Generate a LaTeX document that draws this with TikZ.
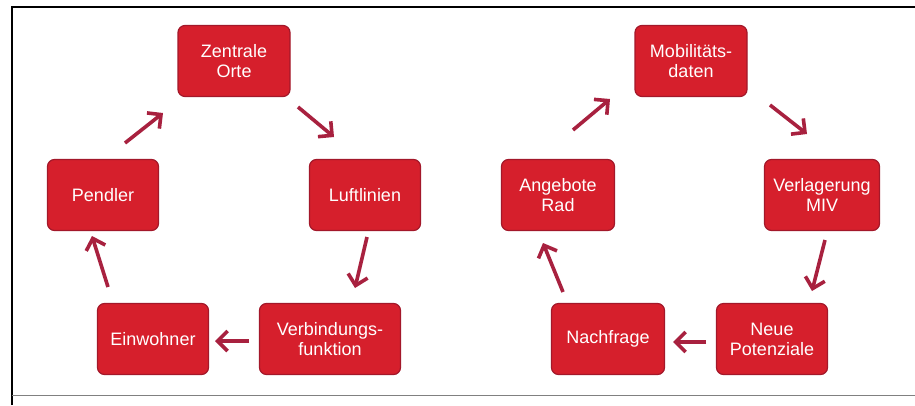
\documentclass[tikz,border=0pt]{standalone}
\usepackage{fontspec}
\setmainfont{Liberation Sans}
\usetikzlibrary{arrows.meta}
\definecolor{boxred}{HTML}{D61F2C}
\definecolor{boxedge}{HTML}{A3182A}
\definecolor{arrowred}{HTML}{A8213F}
\tikzset{
  box/.style={draw=boxedge, line width=1.2pt, fill=boxred, rounded corners=7pt,
    text=white, align=center, font=\fontsize{18}{20}\selectfont,
    inner sep=1pt, minimum height=71pt},
  flow/.style={draw=arrowred, line width=3.6pt,
    -{Straight Barb[length=10pt, width=20pt, line width=3.6pt]}},
}
\begin{document}
\begin{tikzpicture}[x=1pt, y=-1pt]
\useasboundingbox (0,0) rectangle (915,405);
\fill[white] (0,0) rectangle (915,405);
\draw[black, line width=1.5pt] (12,405) -- (12,7) -- (915,7);
\draw[gray, line width=1pt] (12,395) -- (915,395);

% left cycle
\node[box, minimum width=112pt] (zo) at (234,61) {Zentrale\\Orte};
\node[box, minimum width=111pt] (lu) at (365,195) {Luftlinien};
\node[box, minimum width=141pt] (vf) at (330,339) {Verbindungs-\\funktion};
\node[box, minimum width=111pt] (ew) at (153,339) {Einwohner};
\node[box, minimum width=111pt] (pe) at (103,195) {Pendler};

\coordinate (a1s) at (125,143); \coordinate (a1e) at (163,113);
\coordinate (a2s) at (298,107); \coordinate (a2e) at (334,137);
\coordinate (a3s) at (367,237); \coordinate (a3e) at (355,288);
\coordinate (a4s) at (249,341); \coordinate (a4e) at (215,341);
\coordinate (a5s) at (108,287); \coordinate (a5e) at (92,236);
\draw[flow] (a1s) -- (a1e);
\draw[flow] (a2s) -- (a2e);
\draw[flow] (a3s) -- (a3e);
\draw[flow] (a4s) -- (a4e);
\draw[flow] (a5s) -- (a5e);

% right cycle
\node[box, minimum width=112pt] (md) at (691,61) {Mobilitäts-\\daten};
\node[box, minimum width=115pt] (vm) at (822,195) {Verlagerung\\MIV};
\node[box, minimum width=111pt] (np) at (772,339) {Neue\\Potenziale};
\node[box, minimum width=113pt] (nf) at (608,339) {Nachfrage};
\node[box, minimum width=113pt] (ar) at (558,195) {Angebote\\Rad};

\coordinate (b1s) at (573,130); \coordinate (b1e) at (610,99);
\coordinate (b2s) at (770,105); \coordinate (b2e) at (807,134);
\coordinate (b3s) at (825,240); \coordinate (b3e) at (812,291);
\coordinate (b4s) at (706,342); \coordinate (b4e) at (673,342);
\coordinate (b5s) at (563,292); \coordinate (b5e) at (543,243);
\draw[flow] (b1s) -- (b1e);
\draw[flow] (b2s) -- (b2e);
\draw[flow] (b3s) -- (b3e);
\draw[flow] (b4s) -- (b4e);
\draw[flow] (b5s) -- (b5e);
\end{tikzpicture}
\end{document}
